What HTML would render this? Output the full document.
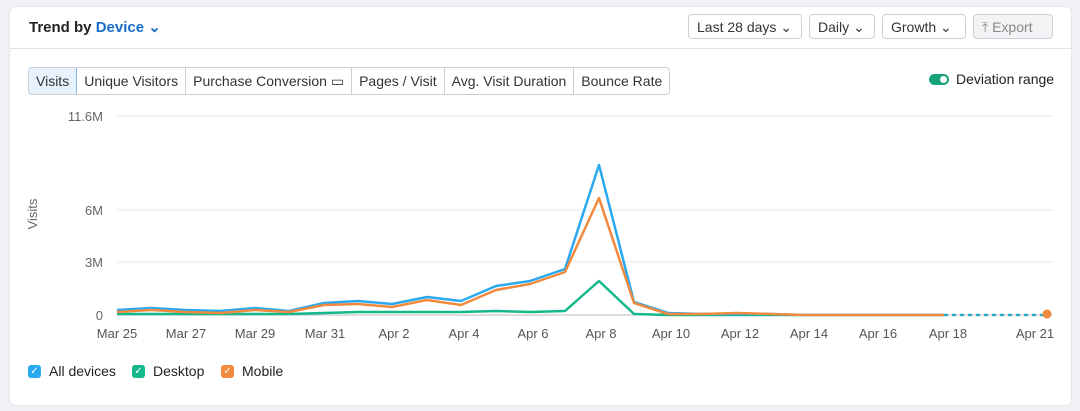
<!DOCTYPE html>
<html><head><meta charset="utf-8"><style>
body{margin:0;width:1080px;height:411px;background:#f0f1f4;font-family:"Liberation Sans",sans-serif;position:relative;overflow:hidden;color:#222}
.card{position:absolute;left:9px;top:6px;width:1061px;height:398px;background:#fff;border-radius:6px;border:1px solid #e4e6ea}
.hdr{position:absolute;left:0;top:0;right:0;height:41px;border-bottom:1px solid #e2e4e8}
.t{position:absolute;left:19px;top:11px;font-size:15px;font-weight:bold}
.t span{color:#1a6fc8}
.btn{position:absolute;top:7px;height:25px;border:1px solid #ccd0d6;border-radius:4px;font-size:14px;line-height:25px;padding:0 8px;box-sizing:border-box;color:#333}
.tabs{position:absolute;left:18px;top:60px;height:26px;border:1px solid #ccd0d6;border-radius:4px;display:flex;font-size:14px;overflow:hidden}
.tabs div{padding:0 7px;line-height:26px;border-right:1px solid #ccd0d6;color:#333}
.tabs div:last-child{border-right:none}
.tabs .a{background:#e8f2fc;border:1px solid #8ab8e6;margin:-1px 0 -1px -1px;border-radius:4px 0 0 4px}
.lg{position:absolute;top:356px;font-size:14px;display:flex;align-items:center}
.cb{width:13px;height:13px;border-radius:3px;margin-right:8px;color:#fff;font-size:10px;line-height:13px;text-align:center}
</style></head><body>
<div class="card">
<div class="hdr">
<div class="t">Trend by <span>Device ⌄</span></div>
<div class="btn" style="left:678px;width:114px">Last 28 days ⌄</div>
<div class="btn" style="left:799px;width:66px">Daily ⌄</div>
<div class="btn" style="left:872px;width:84px">Growth ⌄</div>
<div class="btn" style="left:963px;width:80px;background:#f2f3f5;color:#888">⤒ Export</div>
</div>
<div class="tabs"><div class="a">Visits</div><div>Unique Visitors</div><div>Purchase Conversion ▭</div><div>Pages / Visit</div><div>Avg. Visit Duration</div><div>Bounce Rate</div></div>
<div style="position:absolute;left:919px;top:67px;width:20px;height:11px;border-radius:6px;background:#16a37a"><div style="position:absolute;right:2px;top:2px;width:7px;height:7px;border-radius:50%;background:#fff"></div></div>
<div style="position:absolute;left:946px;top:64px;font-size:14px">Deviation range</div>
<div class="lg" style="left:18px"><div class="cb" style="background:#2aa9f0">✓</div>All devices</div>
<div class="lg" style="left:122px"><div class="cb" style="background:#14b88a">✓</div>Desktop</div>
<div class="lg" style="left:211px"><div class="cb" style="background:#f08a3e">✓</div>Mobile</div>
</div>
<svg width="1080" height="411" style="position:absolute;left:0;top:0">
<g stroke="#e8e9ec"><line x1="117" x2="1052" y1="116" y2="116"/><line x1="117" x2="1052" y1="210" y2="210"/><line x1="117" x2="1052" y1="262" y2="262"/></g>
<line x1="117" x2="1052" y1="315" y2="315" stroke="#bbb"/>
<g font-size="13" fill="#666" text-anchor="end"><text x="103" y="121">11.6M</text><text x="103" y="215">6M</text><text x="103" y="267">3M</text><text x="103" y="320">0</text></g>
<text transform="translate(37,214) rotate(-90)" font-size="13" fill="#666" text-anchor="middle">Visits</text>
<g font-size="13" fill="#555" text-anchor="middle"><text x="117" y="338">Mar 25</text><text x="186" y="338">Mar 27</text><text x="255" y="338">Mar 29</text><text x="325" y="338">Mar 31</text><text x="394" y="338">Apr 2</text><text x="464" y="338">Apr 4</text><text x="533" y="338">Apr 6</text><text x="601" y="338">Apr 8</text><text x="671" y="338">Apr 10</text><text x="740" y="338">Apr 12</text><text x="809" y="338">Apr 14</text><text x="878" y="338">Apr 16</text><text x="948" y="338">Apr 18</text><text x="1035" y="338">Apr 21</text></g>
<g fill="none" stroke-width="2.5" stroke-linejoin="round">
<polyline stroke="#14b88a" points="117,314 151,314 186,314 220,314 255,314 289,314 324,313 358,312 392,312 427,312 461,312 496,311 530,312 565,311 599,281 634,314 668,315 702,315 737,315 771,315 806,315 840,315 875,315 909,315 944,315"/>
<polyline stroke="#2aa9f0" points="117,310 151,308 186,310 220,311 255,308 289,311 324,303 358,301 392,304 427,297 461,301 496,286 530,281 565,269 599,165 634,302 668,313 702,314 737,314 771,314 806,315 840,315 875,315 909,315 944,315"/>
<polyline stroke="#f08a3e" points="117,312 151,310 186,312 220,313 255,310 289,312 324,305 358,304 392,307 427,300 461,305 496,290 530,284 565,272 599,198 634,303 668,314 702,314 737,313 771,314 806,315 840,315 875,315 909,315 944,315"/>
<polyline stroke="#2bb0c0" stroke-dasharray="4,4" points="944,315 1046,315"/>
</g>
<circle cx="1047" cy="314" r="4.5" fill="#f08a3e"/>
</svg>
</body></html>
